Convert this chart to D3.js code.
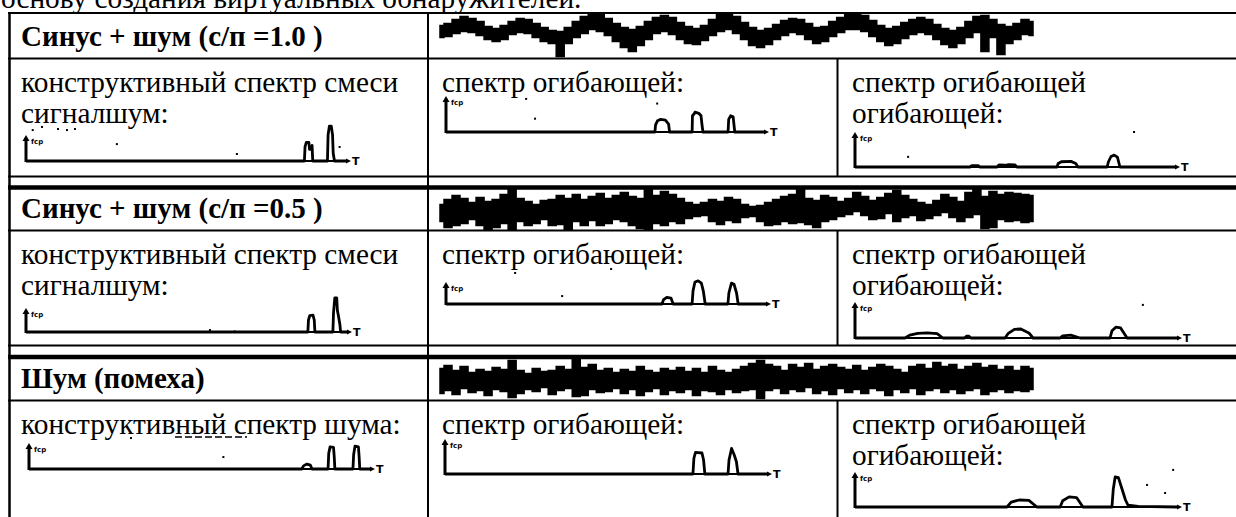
<!DOCTYPE html>
<html>
<head>
<meta charset="utf-8">
<script src="https://cdn.jsdelivr.net/npm/d3@7"></script>
<style>
  body { margin: 0; background: #fff; }
  svg { display: block; }
  text { font-family: "Liberation Serif", "Times New Roman", serif; fill: #000; }
</style>
</head>
<body>
<div id="chart"></div>
<script>
// ---- data ----
var topLine = "основу создания виртуальных обнаружителей.";
var rowTitles = ["Синус + шум (с/п =1.0 )", "Синус + шум (с/п =0.5 )", "Шум (помеха)"];
var cellLabels = [
    [["конструктивный спектр смеси", "сигналшум:"], ["спектр огибающей:"], ["спектр огибающей", "огибающей:"]],
    [["конструктивный спектр смеси", "сигналшум:"], ["спектр огибающей:"], ["спектр огибающей", "огибающей:"]],
    [["конструктивный спектр шума:"], ["спектр огибающей:"], ["спектр огибающей", "огибающей:"]]
];
var axisLabel = "fср";
var axisEnd = "T";

// waveforms (header rows): upper / lower edge of the noisy band, height above the row line
var wave1Hi = [33,35,39,42,40,37,32,30,33,37,40,39,35,31,28,27,31,37,42,45,44,40,35,31,29,32,37,41,43,41,36,32,30,33,39,44,45,42,36,31,28,30,34,38,40,39,35,31,32,37,41,44,45,43,38,33,30,32,36,39,41,39,34,30,28,31,37,42,43,39,34,32,35,39,37];
var wave1Lo = [21,22,25,27,26,23,19,17,19,24,26,25,21,17,15,2,15,21,25,29,27,23,17,11,7,13,19,25,27,24,19,15,14,18,23,27,29,25,19,13,11,14,19,23,26,24,19,15,17,22,26,29,29,27,22,17,13,15,20,24,26,24,19,14,11,15,21,26,7,21,4,15,19,24,23];
var wave2Hi = [26,31,35,32,28,33,29,31,36,41,32,29,26,30,31,35,32,36,31,34,37,32,35,38,34,32,42,35,39,36,32,28,26,28,31,29,33,31,26,24,25,28,31,34,36,41,32,30,35,33,29,32,38,34,30,33,37,40,35,31,28,26,30,36,33,29,38,41,34,39,36,38,37,36,35];
var wave2Lo = [9,3,5,7,11,5,1,3,7,1,9,5,7,11,5,6,1,9,5,10,5,7,11,9,5,2,1,7,5,9,7,12,14,15,9,6,10,8,13,14,9,5,6,9,7,8,6,3,9,11,14,16,19,15,11,12,17,9,13,15,10,12,15,18,13,9,13,16,2,3,11,9,10,8,9];
var wave3Hi = [32,35,30,34,28,31,29,33,31,40,30,27,32,29,30,34,31,41,33,36,30,32,28,31,29,34,30,28,32,30,33,29,32,28,34,30,28,31,34,37,40,36,34,30,36,33,37,31,34,36,33,31,35,30,33,36,34,31,28,34,36,32,38,34,36,31,34,37,33,35,31,34,30,34,32];
var wave3Lo = [7,10,6,12,8,10,5,11,9,3,7,11,9,13,6,10,12,4,5,11,8,9,12,7,11,5,9,12,6,10,8,11,5,10,9,6,11,8,10,11,2,10,12,7,11,9,13,7,10,6,12,8,11,7,12,10,5,11,8,12,6,10,12,8,11,7,10,12,6,9,11,8,10,9,11];

// spectra: [position along the axis in %, amplitude in axis heights]
var spec11 = [[0,0],[87.0,0],[87.2,0.55],[87.6,0.72],[88.4,0.72],[88.6,0.45],[89.2,0.45],[89.4,0.6],[89.6,0],[94.2,0],[94.4,1.0],[94.8,1.34],[95.4,1.34],[95.8,1.0],[96.0,0.3],[96.4,0],[100,0]];
var spec12 = [[0,0],[65.7,0],[65.9,0.2],[66.5,0.31],[67.5,0.35],[69,0.33],[70,0.22],[70.3,0],[77.4,0],[77.5,0.45],[78,0.5],[78.3,0.55],[79.5,0.52],[80.2,0.45],[80.5,0.2],[80.8,0],[88.7,0],[88.9,0.35],[89.5,0.45],[90.3,0.42],[90.8,0],[100,0]];
var spec13 = [[0,0],[35.9,0],[36.5,0.04],[38.5,0.04],[39,0],[44.4,0],[45,0.06],[47,0.05],[48,0.07],[50,0.06],[50.6,0],[63.1,0],[63.5,0.1],[64.5,0.15],[67.5,0.16],[69,0.1],[69.7,0],[78.8,0],[79.2,0.15],[80,0.3],[81,0.34],[82,0.28],[82.8,0],[100,0]];
var spec21 = [[0,0],[87.8,0],[88,0.5],[88.4,0.68],[89.4,0.7],[89.8,0.5],[90,0],[95.6,0],[95.8,0.8],[96.2,1.42],[96.8,1.42],[97,0.9],[97.3,0.7],[97.8,0.3],[98,0],[100,0]];
var spec22 = [[0,0],[67.5,0],[68,0.2],[69,0.3],[70.3,0.27],[71,0],[76.9,0],[77.2,0.6],[77.8,1.0],[78.8,1.05],[79.8,0.95],[80.4,0.6],[81,0],[88.1,0],[88.4,0.5],[89.2,0.95],[90,0.9],[90.8,0.5],[91.3,0],[100,0]];
var spec23 = [[0,0],[15.5,0],[17,0.08],[19.5,0.13],[22.5,0.14],[25.5,0.12],[27.3,0],[34,0],[34.6,0.05],[35.4,0.05],[36,0],[46.6,0],[47.5,0.12],[49.5,0.24],[51.5,0.25],[54,0.14],[55.3,0],[63.7,0],[64.5,0.06],[67,0.08],[69.9,0],[79.2,0],[79.8,0.2],[81,0.3],[82.5,0.28],[84.5,0],[100,0]];
var spec31 = [[0,0],[80,0],[80.5,0.12],[81.5,0.19],[82.5,0.15],[83,0],[87.7,0],[87.9,0.6],[88.3,0.85],[89.3,0.83],[89.5,0.5],[89.7,0],[95,0],[95.2,0.55],[95.6,0.88],[96.6,0.85],[96.8,0.5],[97,0],[100,0]];
var spec32 = [[0,0],[77,0],[77.3,0.45],[77.8,0.62],[79.8,0.6],[80.3,0.4],[80.7,0],[87.9,0],[88.2,0.4],[89,0.73],[89.8,0.55],[90.5,0.35],[91,0],[100,0]];
var spec33 = [[0,0],[47.2,0],[48.5,0.14],[51,0.2],[54,0.19],[56.5,0],[63.7,0],[64.5,0.18],[66.5,0.29],[68.8,0.27],[70.8,0],[79.8,0],[80.2,0.5],[80.8,0.86],[81.8,0.84],[82.8,0.55],[84,0.2],[84.8,0.05],[88,0.02],[100,0]];

// stray scan dots around the spectra
var dots11 = [[2.1,1.19],[5,1.31],[10,1.23],[12.8,1.19],[15.3,1.23],[28.4,0.65],[65.9,0.27],[98,0.54]];
var dots12 = [[25.2,0.92],[28,0.37],[66.4,0.79]];
var dots13 = [[87.2,1.0],[16.6,0.29]];
var dots21 = [[57.3,0.08],[65,0.02]];
var dots22 = [[21.6,1.41],[51.6,1.59],[36.3,0.36]];
var dots23 = [[89.4,0.92]];
var dots31 = [[29.9,1.19],[57,0.46]];
var dots32 = [];
var dots33 = [[98.8,1.06],[90.7,0.63],[96.3,0.4]];

var spectra = [spec11, spec12, spec13, spec21, spec22, spec23, spec31, spec32, spec33];
var dots = [dots11, dots12, dots13, dots21, dots22, dots23, dots31, dots32, dots33];
var waves = [[wave1Hi, wave1Lo], [wave2Hi, wave2Lo], [wave3Hi, wave3Lo]];

// ---- layout ----
var width = 1236, height = 517;
var colX = [9.5, 428, 837.5];
var rows = [
    { top: 13, head: 58.5, bottom: 176.5, topW: 2 },
    { top: 187.5, head: 230.5, bottom: 345.5, topW: 4.5 },
    { top: 357, head: 400.5, bottom: 530, topW: 4.5 }
];
var textX = [21, 442, 852];
var bodySize = "29.3px", headSize = "29px";
var panels = [
    { x0: 26, base: 161, w: 320, h: 26 }, { x0: 446, base: 132, w: 318, h: 36 }, { x0: 855, base: 167, w: 320, h: 35 },
    { x0: 26, base: 332, w: 321, h: 24 }, { x0: 446, base: 304, w: 320, h: 22 }, { x0: 855, base: 338, w: 322, h: 36 },
    { x0: 29, base: 469, w: 341, h: 26 }, { x0: 445, base: 474, w: 322, h: 35 }, { x0: 855, base: 507, w: 322, h: 35 }
];
var waveLeft = 440, waveRight = 1033;

var svg = d3.select("#chart").append("svg")
    .attr("width", width)
    .attr("height", height);

// line cut off at the top of the page
svg.append("text")
    .attr("x", 1)
    .attr("y", 8)
    .attr("font-size", bodySize)
    .text(topLine);

// table grid
svg.append("line")
    .attr("x1", colX[0]).attr("x2", colX[0])
    .attr("y1", rows[0].top).attr("y2", height)
    .attr("stroke", "#000").attr("stroke-width", 2.5);
svg.append("line")
    .attr("x1", colX[1]).attr("x2", colX[1])
    .attr("y1", rows[0].top).attr("y2", height)
    .attr("stroke", "#000").attr("stroke-width", 2);

rows.forEach(function (r, ri) {
    svg.append("line")
        .attr("x1", 8).attr("x2", width)
        .attr("y1", r.top).attr("y2", r.top)
        .attr("stroke", "#000").attr("stroke-width", r.topW);
    svg.append("line")
        .attr("x1", 8).attr("x2", width)
        .attr("y1", r.head).attr("y2", r.head)
        .attr("stroke", "#000").attr("stroke-width", 2);
    svg.append("line")
        .attr("x1", 8).attr("x2", width)
        .attr("y1", r.bottom).attr("y2", r.bottom)
        .attr("stroke", "#000").attr("stroke-width", 2);
    svg.append("line")
        .attr("x1", colX[2]).attr("x2", colX[2])
        .attr("y1", r.head).attr("y2", Math.min(r.bottom, height))
        .attr("stroke", "#000").attr("stroke-width", 2);

    // header title
    svg.append("text")
        .attr("x", textX[0])
        .attr("y", r.head - 12.5)
        .attr("font-size", headSize)
        .attr("font-weight", "bold")
        .text(rowTitles[ri]);

    // cell captions
    cellLabels[ri].forEach(function (lines, ci) {
        lines.forEach(function (t, li) {
            svg.append("text")
                .attr("x", textX[ci])
                .attr("y", r.head + 33 + li * 31)
                .attr("font-size", bodySize)
                .text(t);
        });
    });

    // noisy waveform in the merged header cell
    var hi = waves[ri][0], lo = waves[ri][1];
    var wx = d3.scaleLinear().domain([0, hi.length - 1]).range([waveLeft, waveRight]);
    var wy = d3.scaleLinear().domain([0, r.head - r.top]).range([r.head, r.top]);
    var band = d3.area()
        .x(function (d, i) { return wx(i); })
        .y0(function (d, i) { return wy(lo[i]); })
        .y1(function (d) { return wy(d); })
        .curve(d3.curveStep);
    svg.append("path")
        .datum(hi)
        .attr("d", band)
        .attr("fill", "#000")
        .attr("stroke", "#000")
        .attr("stroke-width", 1.5);
});

// scan artefact under the third row caption
svg.append("line")
    .attr("x1", 175).attr("x2", 247)
    .attr("y1", 437).attr("y2", 437)
    .attr("stroke", "#000").attr("stroke-width", 1.5)
    .attr("stroke-dasharray", "7,3");

// spectrum sketches
spectra.forEach(function (pts, i) {
    var b = panels[i];
    var x = d3.scaleLinear().domain([0, 100]).range([b.x0, b.x0 + b.w]);
    var y = d3.scaleLinear().domain([0, 1]).range([b.base, b.base - b.h]);
    var g = svg.append("g");

    // vertical axis with arrow
    g.append("line")
        .attr("x1", x(0)).attr("x2", x(0))
        .attr("y1", y(0) + 1).attr("y2", y(1) + 4)
        .attr("stroke", "#000").attr("stroke-width", 3);
    g.append("path")
        .attr("d", "M" + (x(0) - 3.5) + "," + (y(1) + 6) + "L" + x(0) + "," + y(1) + "L" + (x(0) + 3.5) + "," + (y(1) + 6) + "Z")
        .attr("fill", "#000");
    g.append("text")
        .attr("x", x(0) + 5)
        .attr("y", y(1) + 9)
        .attr("font-size", "7px")
        .attr("font-weight", "bold")
        .style("font-family", "DejaVu Sans, sans-serif")
        .text(axisLabel);

    // horizontal axis with arrow and T
    g.append("line")
        .attr("x1", x(0)).attr("x2", x(100))
        .attr("y1", y(0)).attr("y2", y(0))
        .attr("stroke", "#000").attr("stroke-width", 1.8);
    g.append("path")
        .attr("d", "M" + x(100) + "," + (y(0) - 2.5) + "L" + (x(100) + 5) + "," + y(0) + "L" + x(100) + "," + (y(0) + 2.5) + "Z")
        .attr("fill", "#000");
    g.append("text")
        .attr("x", x(100) + 6)
        .attr("y", y(0) + 4)
        .attr("font-size", "11px")
        .attr("font-weight", "bold")
        .style("font-family", "DejaVu Sans, sans-serif")
        .text(axisEnd);

    // the spectrum itself
    g.append("path")
        .datum(pts)
        .attr("d", d3.line().x(function (d) { return x(d[0]); }).y(function (d) { return y(d[1]); }))
        .attr("fill", "none")
        .attr("stroke", "#000")
        .attr("stroke-width", 2.8)
        .attr("stroke-linejoin", "round");

    g.selectAll("rect.dot")
        .data(dots[i])
        .enter()
        .append("rect")
        .attr("class", "dot")
        .attr("x", function (d) { return x(d[0]) - 1; })
        .attr("y", function (d) { return y(d[1]) - 1; })
        .attr("width", 2)
        .attr("height", 2)
        .attr("fill", "#000");
});
</script>
</body>
</html>
